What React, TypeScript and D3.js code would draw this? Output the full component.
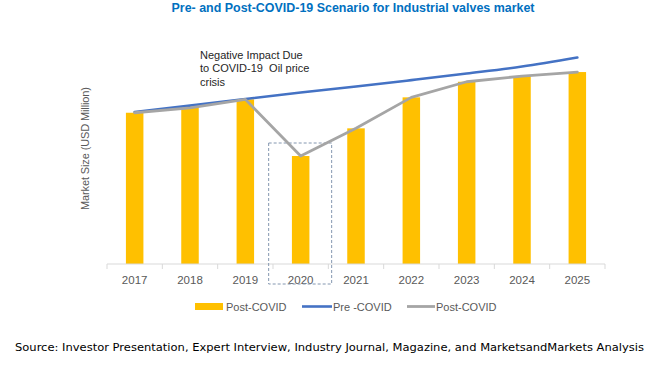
import React from "react";
import * as d3 from "d3";

const W = 650;
const H = 366;
const MARGIN = { top: 44, left: 107, right: 45, bottom: 102 };

// USD Million (scale has no printed ticks)
const years = ["2017", "2018", "2019", "2020", "2021", "2022", "2023", "2024", "2025"];
const postCovid = [8250, 8520, 8980, 5890, 7400, 9090, 9940, 10250, 10470];
const preCovid = [8290, 8640, 9000, 9350, 9680, 10030, 10390, 10770, 11260];
const annotation = ["Negative Impact Due", "to COVID-19  Oil price", "crisis"];
const highlightYear = "2020";

const FONT = "'Liberation Sans', Arial, sans-serif";

const App = () => {
  const boundsW = W - MARGIN.left - MARGIN.right;
  const axisY = 264;

  const x = d3.scaleBand().domain(years).range([MARGIN.left, MARGIN.left + boundsW]);
  const y = d3.scaleLinear().domain([0, 12000]).range([axisY, MARGIN.top]);
  const cx = (yr: string) => (x(yr) || 0) + x.bandwidth() / 2;

  const preLine = d3
    .line<number>()
    .x((_, i) => cx(years[i]))
    .y((d) => y(d))
    .curve(d3.curveMonotoneX);
  const postLine = d3
    .line<number>()
    .x((_, i) => cx(years[i]))
    .y((d) => y(d));

  const barW = 17.5;
  const ticks = [...years.map((yr) => x(yr) || 0), MARGIN.left + boundsW];
  const hx = cx(highlightYear);

  return (
    <div style={{ position: "absolute", left: 0, top: 0 }}>
      <svg width={W} height={H} style={{ display: "block", background: "#fff" }}>
        {/* title */}
        <text
          x={353}
          y={12}
          textAnchor="middle"
          fontFamily={FONT}
          fontWeight={700}
          fontSize={13}
          fill="#0070c0"
          textLength={363}
          lengthAdjust="spacingAndGlyphs"
        >
          Pre- and Post-COVID-19 Scenario for Industrial valves market
        </text>

        {/* y axis title */}
        <text
          transform={`translate(89, 148.5) rotate(-90)`}
          textAnchor="middle"
          fontFamily={FONT}
          fontSize={11}
          fill="#595959"
          textLength={123}
        >
          Market Size (USD Million)
        </text>

        {/* bars */}
        {years.map((yr, i) => (
          <rect
            key={yr}
            x={cx(yr) - barW / 2}
            y={y(postCovid[i])}
            width={barW}
            height={axisY - y(postCovid[i])}
            fill="#ffc000"
          />
        ))}

        {/* axis */}
        <line x1={MARGIN.left} x2={MARGIN.left + boundsW} y1={axisY} y2={axisY} stroke="#d9d9d9" />
        {ticks.map((t, i) => (
          <line key={i} x1={t} x2={t} y1={axisY} y2={axisY + 5} stroke="#d9d9d9" />
        ))}
        {years.map((yr) => (
          <text
            key={yr}
            x={cx(yr)}
            y={284}
            textAnchor="middle"
            fontFamily={FONT}
            fontSize={11.5}
            fill="#595959"
          >
            {yr}
          </text>
        ))}

        {/* highlight box around 2020 */}
        <rect
          x={hx - 32}
          y={143}
          width={63}
          height={141}
          fill="none"
          stroke="#8497b0"
          strokeWidth={1}
          strokeDasharray="3,2"
        />

        {/* lines */}
        <path d={preLine(preCovid) || ""} fill="none" stroke="#4472c4" strokeWidth={2.6} strokeLinecap="round" />
        <path
          d={postLine(postCovid) || ""}
          fill="none"
          stroke="#a5a5a5"
          strokeWidth={2.8}
          strokeLinecap="round"
          strokeLinejoin="round"
        />

        {/* annotation */}
        {annotation.map((ln, i) => (
          <text
            key={i}
            x={200}
            y={59 + i * 13.4}
            fontFamily={FONT}
            fontSize={11}
            fill="#262626"
            style={{ whiteSpace: "pre" }}
          >
            {ln}
          </text>
        ))}

        {/* legend */}
        <g fontFamily={FONT} fontSize={11} fill="#595959">
          <rect x={195} y={303} width={28} height={7} fill="#ffc000" />
          <text x={226} y={310.5}>Post-COVID</text>
          <line x1={302} x2={332} y1={306.5} y2={306.5} stroke="#4472c4" strokeWidth={2.6} />
          <text x={333} y={310.5}>Pre -COVID</text>
          <line x1={407} x2={435} y1={306.5} y2={306.5} stroke="#a5a5a5" strokeWidth={2.8} />
          <text x={436} y={310.5}>Post-COVID</text>
        </g>

        {/* source */}
        <text
          x={15}
          y={351}
          fontFamily="'DejaVu Sans', Verdana, sans-serif"
          fontSize={11}
          fill="#000"
          textLength={629}
          lengthAdjust="spacingAndGlyphs"
        >
          Source: Investor Presentation, Expert Interview, Industry Journal, Magazine, and MarketsandMarkets Analysis
        </text>
      </svg>
    </div>
  );
};

export default App;
